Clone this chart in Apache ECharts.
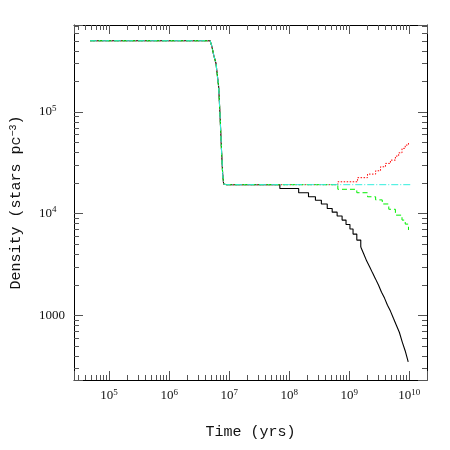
<!DOCTYPE html>
<html>
<head>
<meta charset="utf-8">
<script src="https://cdn.jsdelivr.net/npm/echarts@6/dist/echarts.min.js"></script>
<style>
  html, body { margin: 0; padding: 0; background: #fff; }
  #chart { width: 450px; height: 450px; }
</style>
</head>
<body>
<div id="chart"></div>
<script>
// values (time in yrs, density in stars pc^-3)
const sharedTime = [4.82e4, 4.82e6, 5.14e6, 5.53e6, 6.04e6, 6.69e6, 7.03e6, 7.50e6, 7.79e6, 8.09e6, 9.06e6];
const sharedDensity = [5.0e5, 5.0e5, 4.43e5, 3.61e5, 2.99e5, 1.76e5, 9.64e4, 3.90e4, 2.48e4, 1.95e4, 1.92e4];

// black: coarse steps first, then a fine staircase that reads as a curve
const blackStepTime = [7.0e7, 1.44e8, 2.10e8, 2.74e8, 3.44e8, 4.31e8, 5.21e8, 6.30e8, 7.62e8, 8.86e8,
  1.03e9, 1.16e9, 1.34e9, 1.56e9];
const blackStepDensity = [1.76e4, 1.60e4, 1.46e4, 1.35e4, 1.24e4, 1.12e4, 1.03e4, 9430, 8610, 7780,
  7030, 6270, 5470, 4670];
const blackTailTime = [1.56e9, 1.75e9, 1.96e9, 2.20e9, 2.46e9, 2.76e9, 3.09e9, 3.46e9, 3.88e9, 4.35e9,
  4.87e9, 5.46e9, 6.11e9, 6.85e9, 7.67e9, 8.59e9, 9.63e9];
const blackTailDensity = [4670, 3990, 3400, 2970, 2590, 2260, 1970, 1680, 1470, 1250,
  1095, 931, 795, 678, 543, 444, 346];

const redTime = [6.47e8, 1.38e9, 2.02e9, 2.76e9, 3.33e9, 4.03e9, 4.87e9, 5.89e9, 6.67e9, 7.59e9, 8.59e9, 9.73e9];
const redDensity = [2.05e4, 2.25e4, 2.44e4, 2.63e4, 2.88e4, 3.11e4, 3.35e4, 3.67e4, 3.95e4, 4.37e4, 4.71e4, 5.07e4];

const greenTime = [6.47e8, 1.34e9, 2.02e9, 2.76e9, 3.56e9, 4.57e9, 5.89e9, 7.59e9, 8.59e9, 9.73e9];
const greenDensity = [1.73e4, 1.60e4, 1.46e4, 1.36e4, 1.24e4, 1.10e4, 9630, 8610, 7860, 6880];

const cyanTime = [1.07e10];
const cyanDensity = [1.92e4];

const xTicks = [1e5, 1e6, 1e7, 1e8, 1e9, 1e10];
const yTicks = [1e3, 1e4, 1e5];

const xMin = 2.6e4, xMax = 1.98e10;
const yMin = 230, yMax = 7.15e5;

function pairs(t, d) {
  return t.map((v, i) => [v, d[i]]);
}
const shared = pairs(sharedTime, sharedDensity);
const sharedEnd = shared.slice(-1);

// minor ticks at 2..9 x 10^k inside the axis range
function minors(lo, hi) {
  const out = [];
  for (let k = Math.floor(Math.log10(lo)); k <= Math.ceil(Math.log10(hi)); k++) {
    for (let m = 2; m <= 9; m++) {
      const v = m * Math.pow(10, k);
      if (v > lo && v < hi) out.push(v);
    }
  }
  return out;
}

const serif = 'Liberation Serif';
const nameFont = 'Liberation Mono';
const tickColor = '#555';

function isTick(v, list) {
  return list.some(t => Math.abs(v / t - 1) < 1e-6);
}
function xLabel(v) {
  if (!isTick(v, xTicks)) return '';
  return '{b|10}{s|' + Math.round(Math.log10(v)) + '}';
}
function yLabel(v) {
  if (!isTick(v, yTicks)) return '';
  const e = Math.round(Math.log10(v));
  if (e === 3) return '{b|1000}';
  return '{b|10}{s|' + e + '}';
}
const labelRich = {
  b: { fontFamily: serif, fontSize: 13, color: '#111', lineHeight: 16 },
  s: { fontFamily: serif, fontSize: 9, color: '#111', lineHeight: 9, verticalAlign: 'top' }
};

function xAxisOpt(pos, showLabel) {
  return {
    type: 'log', logBase: 10, min: xMin, max: xMax, position: pos,
    axisLine: { show: true, lineStyle: { color: '#000', width: 1 } },
    axisTick: { show: true, inside: true, length: 9, lineStyle: { color: tickColor } },
    axisLabel: { show: showLabel, margin: 8, formatter: xLabel, rich: labelRich },
    splitLine: { show: false }
  };
}
function yAxisOpt(pos, showLabel) {
  return {
    type: 'log', logBase: 10, min: yMin, max: yMax, position: pos,
    axisLine: { show: true, lineStyle: { color: '#000', width: 1 } },
    axisTick: { show: true, inside: true, length: 9, lineStyle: { color: tickColor } },
    axisLabel: { show: showLabel, margin: 35, align: 'left', formatter: yLabel, rich: labelRich },
    splitLine: { show: false }
  };
}

const xa = xAxisOpt('bottom', true);
xa.name = 'Time (yrs)';
xa.nameLocation = 'middle';
xa.nameGap = 45;
xa.nameTextStyle = { fontFamily: nameFont, fontSize: 15, color: '#111' };

const ya = yAxisOpt('left', true);
ya.name = 'Density (stars pc{s|−3})';
ya.nameLocation = 'middle';
ya.nameGap = 50;
ya.nameTextStyle = {
  fontFamily: nameFont, fontSize: 15, color: '#111', lineHeight: 16,
  rich: { s: { fontFamily: nameFont, fontSize: 10, color: '#111', lineHeight: 10, verticalAlign: 'top' } }
};

function tickLine(x1, y1, x2, y2) {
  return { type: 'line', shape: { x1: x1, y1: y1, x2: x2, y2: y2 }, style: { stroke: tickColor, lineWidth: 1 } };
}

const styles = {
  black: { color: '#000', width: 1.1 },
  red: { color: '#ff0000', width: 1, type: [1.5, 1.5] },
  green: { color: '#00ee00', width: 1, type: [5, 3] },
  cyan: { color: '#33eedd', width: 1, type: [7, 2, 1, 2] }
};
function line(name, data, step, z) {
  return { name: name, type: 'line', step: step, symbol: 'none', z: z, data: data, lineStyle: styles[name] };
}

const chart = echarts.init(document.getElementById('chart'));
chart.setOption({
  animation: false,
  backgroundColor: '#fff',
  grid: { left: 70, right: 23, top: 25, bottom: 70 },
  xAxis: [xa, xAxisOpt('top', false)],
  yAxis: [ya, yAxisOpt('right', false)],
  series: [
    {
      type: 'custom', silent: true, clip: false, z: 1,
      data: minors(xMin, xMax).map(v => [v, yMin]),
      renderItem: function (params, api) {
        const b = api.coord([api.value(0), yMin]);
        const t = api.coord([api.value(0), yMax]);
        const x = Math.round(b[0]) + 0.5;
        return { type: 'group', children: [tickLine(x, b[1], x, b[1] - 5), tickLine(x, t[1], x, t[1] + 5)] };
      }
    },
    {
      type: 'custom', silent: true, clip: false, z: 1,
      data: minors(yMin, yMax).map(v => [xMin, v]),
      renderItem: function (params, api) {
        const l = api.coord([xMin, api.value(1)]);
        const r = api.coord([xMax, api.value(1)]);
        const y = Math.round(l[1]) + 0.5;
        return { type: 'group', children: [tickLine(l[0], y, l[0] + 5, y), tickLine(r[0], y, r[0] - 5, y)] };
      }
    },
    line('black', shared, false, 2),
    line('black', sharedEnd.concat(pairs(blackStepTime, blackStepDensity)), 'end', 2),
    line('black', pairs(blackTailTime, blackTailDensity), false, 2),
    line('red', shared, false, 3),
    line('red', sharedEnd.concat(pairs(redTime, redDensity)), 'end', 3),
    line('green', shared, false, 4),
    line('green', sharedEnd.concat(pairs(greenTime, greenDensity)), 'end', 4),
    line('cyan', shared.concat(pairs(cyanTime, cyanDensity)), false, 5)
  ]
});
</script>
</body>
</html>
